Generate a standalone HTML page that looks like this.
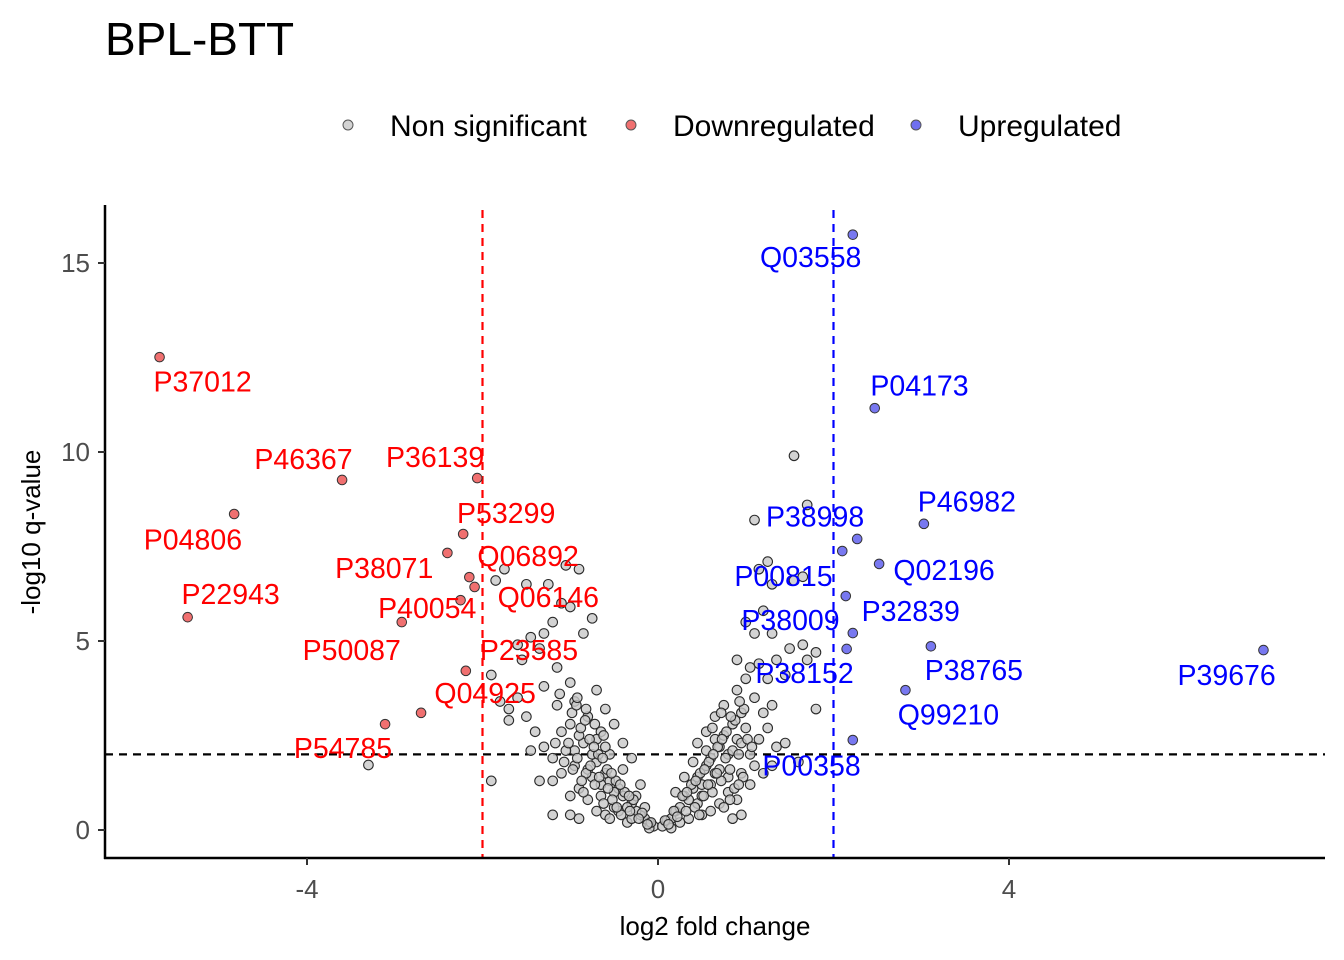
<!DOCTYPE html>
<html><head><meta charset="utf-8"><style>
body{margin:0;background:#fff;}
svg{display:block;font-family:"Liberation Sans",Arial,sans-serif;}
</style></head><body>
<svg id="chart" width="1344" height="960">
<text x="105" y="55" font-size="46" fill="#000">BPL-BTT</text>
<g>
<circle cx="348" cy="125" r="5" fill="#d3d3d3" stroke="#555"/>
<text x="390" y="136" font-size="30">Non significant</text>
<circle cx="631" cy="125" r="5" fill="#f07070" stroke="#555"/>
<text x="673" y="136" font-size="30">Downregulated</text>
<circle cx="916" cy="125" r="5" fill="#7070f0" stroke="#555"/>
<text x="958" y="136" font-size="30">Upregulated</text>
</g>
<g id="plot"></g>
<text x="715" y="935" font-size="26" text-anchor="middle">log2 fold change</text>
<text transform="translate(40,532) rotate(-90)" font-size="26" text-anchor="middle">-log10 q-value</text>
</svg>
<script>
const xTicks=[-4,0,4];
const yTicks=[0,5,10,15];
const grayLeftX=[-0.05,-0.1,-0.15,-0.2,-0.25,-0.3,-0.35,-0.4,-0.45,-0.5,-0.55,-0.6,-0.65,-0.7,-0.75,-0.8,-0.85,-0.9,-0.95,-1.0,-0.6,-0.7,-0.8,-0.9,-1.0,-1.1,-1.2,-1.3,-1.4,-1.5,-1.6,-1.7,-1.8,-1.9,-1.55,-1.45,-1.3,-1.2,-1.1,-1.0,-0.9,-1.05,-1.25,-1.5,-1.75,-1.85,-1.6,-1.35,-1.15,-0.85,-0.75,-1.0,-0.95,-0.7,-0.8,-0.6,-0.5,-0.4,-0.3,-0.2,-0.65,-0.55,-0.45,-0.35,-1.2,-1.0,-0.9,-1.2,-1.35,-1.45,-1.9,-1.7,-1.15,-1.3,-0.65,-0.55,-0.75,-0.85,-0.4,-0.25,-0.15,-0.1,-0.3,-0.5,-3.3,-1.05,-1.1,-0.95,-0.7,-0.6];
const grayLeftY=[0.1,0.2,0.3,0.4,0.5,0.7,0.6,0.9,1.1,1.0,1.3,1.5,1.2,1.8,2.0,1.6,2.3,2.5,2.1,2.8,0.4,0.5,0.8,1.1,0.9,1.5,1.9,2.2,2.6,3.0,3.5,3.2,3.4,4.1,4.5,5.1,5.2,5.5,6.0,5.9,6.9,7.0,6.5,6.5,6.9,6.6,4.9,4.8,4.3,5.2,5.6,3.9,3.4,3.7,3.0,3.2,2.8,2.3,1.9,1.2,0.9,0.3,0.5,0.2,0.4,0.4,0.3,1.3,1.3,2.1,1.3,2.9,3.3,3.8,2.6,2.0,1.4,1.0,1.6,0.9,0.6,0.05,0.3,0.6,1.72,2.1,2.6,1.7,2.4,2.2];
const grayRightX=[0.05,0.1,0.15,0.2,0.25,0.3,0.35,0.4,0.45,0.5,0.55,0.6,0.65,0.7,0.75,0.8,0.85,0.9,0.95,1.0,0.5,0.6,0.7,0.8,0.9,0.95,1.05,1.15,1.25,1.35,1.45,1.6,1.0,1.05,1.15,1.25,1.35,1.5,1.65,1.7,1.8,1.1,1.0,1.2,1.3,1.15,1.25,1.55,1.65,1.1,1.7,1.55,1.8,1.1,0.9,0.75,0.65,0.55,0.45,0.4,0.3,0.2,0.35,0.45,0.75,0.85,0.95,1.05,1.1,0.6,0.7,0.8,0.65,0.55,0.25,0.15,1.2,1.3,0.5,0.85,0.95,1.2,0.9,1.3,1.45,1.3];
const grayRightY=[0.1,0.25,0.3,0.5,0.6,0.9,0.8,1.1,1.4,1.2,1.7,1.9,1.5,2.2,2.5,2.0,2.8,2.4,3.1,2.7,0.4,0.5,0.7,1.0,0.8,1.5,2.0,2.4,2.7,2.2,2.3,1.8,4.0,4.3,4.4,4.0,4.5,4.8,4.9,4.5,4.7,5.2,5.5,5.8,6.5,6.9,7.1,6.6,6.7,8.2,8.6,9.9,3.2,3.5,3.7,3.3,3.0,2.6,2.3,1.8,1.4,1.0,0.3,0.7,0.6,0.3,0.4,1.2,1.7,1.2,1.6,1.4,2.4,2.1,0.2,0.05,1.5,1.7,0.9,2.1,2.3,3.1,4.5,5.2,4.1,3.3];
const grayCoreX=[
-0.08,-0.12,-0.18,-0.22,-0.28,-0.32,-0.38,-0.42,-0.48,-0.52,
-0.58,-0.62,-0.68,-0.72,-0.78,-0.82,-0.88,-0.92,-0.98,-1.02,
-0.33,-0.43,-0.53,-0.63,-0.73,-0.83,-0.93,-0.47,-0.57,-0.67,
-0.77,-0.87,-0.97,-1.07,-1.17,-0.62,-0.72,-0.82,-0.92,-1.12,
0.08,0.12,0.18,0.22,0.28,0.32,0.38,0.42,0.48,0.52,
0.58,0.62,0.68,0.72,0.78,0.82,0.88,0.92,0.98,1.02,
0.33,0.43,0.53,0.63,0.73,0.83,0.93,0.47,0.57,0.67,
0.77,0.87,0.97,1.07,0.62,0.72,0.82,0.92];
const grayCoreY=[
0.2,0.15,0.45,0.3,0.8,0.5,1.0,0.4,1.3,0.8,
1.6,0.7,2.0,1.2,2.4,1.5,2.7,1.9,3.1,2.3,
0.9,1.2,1.5,1.9,2.2,2.9,3.3,0.6,1.1,1.4,
1.7,1.3,1.6,1.8,2.3,2.5,2.8,3.2,3.5,3.6,
0.25,0.15,0.5,0.35,0.9,0.5,1.2,0.6,1.5,0.9,
1.8,1.0,2.2,1.3,2.6,1.6,2.9,2.0,3.2,2.4,
1.0,1.3,1.6,2.0,2.4,3.0,3.4,0.4,1.2,1.5,
1.9,1.1,1.4,2.2,2.7,3.1,0.8,1.2];
const downX=[-5.68,-4.83,-3.60,-5.36,-2.92,-2.06,-2.22,-2.40,-2.15,-2.09,-2.25,-2.19,-3.11,-2.70];
const downY=[12.51,8.36,9.26,5.63,5.50,9.31,7.83,7.33,6.69,6.43,6.08,4.21,2.80,3.10];
const upX=[2.22,2.47,3.03,2.27,2.10,2.52,2.14,2.22,3.11,2.15,6.90,2.82,2.22];
const upY=[15.75,11.16,8.10,7.70,7.38,7.04,6.19,5.21,4.86,4.79,4.76,3.70,2.38];
const downLabels=["P37012","P04806","P46367","P36139","P53299","Q06892","P38071","P22943","Q06146","P40054","P50087","P23585","Q04925","P54785"];
const downLabelX=[-5.19,-5.30,-4.04,-2.54,-1.73,-1.48,-3.12,-4.87,-1.25,-2.63,-3.49,-1.47,-1.97,-3.59];
const downLabelY=[11.87,7.69,9.81,9.87,8.39,7.25,6.93,6.24,6.17,5.87,4.76,4.76,3.62,2.17];
const upLabels=["Q03558","P04173","P46982","P38998","Q02196","P00815","P32839","P38009","P38765","P38152","P39676","Q99210","P00358"];
const upLabelX=[1.74,2.98,3.52,1.79,3.26,1.43,2.88,1.51,3.60,1.67,6.48,3.31,1.75];
const upLabelY=[15.16,11.76,8.69,8.30,6.88,6.72,5.79,5.56,4.23,4.15,4.10,3.05,1.71];
const xThr=2, yThr=2;

const NS="http://www.w3.org/2000/svg";
const plot=document.getElementById('plot');
const X0=658, PXU=87.75, Y0=830, PYU=37.8;
function sx(v){return X0+v*PXU;}
function sy(v){return Y0-v*PYU;}
function mk(tag,attrs){const e=document.createElementNS(NS,tag);for(const k in attrs)e.setAttribute(k,attrs[k]);plot.appendChild(e);return e;}

let l=mk('line',{x1:sx(-xThr),x2:sx(-xThr),y1:210,y2:858,stroke:'#f00','stroke-width':2.2,'stroke-dasharray':'8,6'});


l=mk('line',{x1:sx(xThr),x2:sx(xThr),y1:210,y2:858,stroke:'#00f','stroke-width':2.2,'stroke-dasharray':'8,6'});


l=mk('line',{x1:105,x2:1325,y1:sy(yThr),y2:sy(yThr),stroke:'#000','stroke-width':2.2,'stroke-dasharray':'8,6'});



function grayGroup(xs,ys){
  const n=Math.min(xs.length,ys.length);
  for(let i=0;i<n;i++){
    const c=mk('circle',{cx:sx(xs[i]),cy:sy(ys[i]),r:4.8,fill:'#c8c8c8','fill-opacity':0.8,stroke:'#2a2a2a','stroke-width':1.1});
    
    
  }
}
grayGroup(grayLeftX,grayLeftY);
grayGroup(grayRightX,grayRightY);
grayGroup(grayCoreX,grayCoreY);
for(let i=0;i<downX.length;i++){
  const c=mk('circle',{cx:sx(downX[i]),cy:sy(downY[i]),r:4.8,fill:'#f07070',stroke:'#333','stroke-width':1});
  
  
}
for(let i=0;i<upX.length;i++){
  const c=mk('circle',{cx:sx(upX[i]),cy:sy(upY[i]),r:4.8,fill:'#7878f0',stroke:'#333','stroke-width':1});
  
  
}
for(let i=0;i<downLabels.length;i++){
  const t=mk('text',{x:sx(downLabelX[i]),y:sy(downLabelY[i])+10,'font-size':28.5,fill:'#f00','text-anchor':'middle'});
  t.textContent=downLabels[i];
  
  
}
for(let i=0;i<upLabels.length;i++){
  const t=mk('text',{x:sx(upLabelX[i]),y:sy(upLabelY[i])+10,'font-size':28.5,fill:'#00f','text-anchor':'middle'});
  t.textContent=upLabels[i];
  
  
}
l=mk('line',{x1:105,x2:105,y1:205,y2:859,stroke:'#000','stroke-width':2.5});


l=mk('line',{x1:104,x2:1325,y1:858,y2:858,stroke:'#000','stroke-width':2.5});


xTicks.forEach(v=>{
  const tk=mk('line',{x1:sx(v),x2:sx(v),y1:858,y2:865,stroke:'#333','stroke-width':2});
  
  
  const t=mk('text',{x:sx(v),y:898,'font-size':26,fill:'#4d4d4d','text-anchor':'middle'});
  t.textContent=String(v);
  
  
});
yTicks.forEach(v=>{
  const tk=mk('line',{x1:98,x2:105,y1:sy(v),y2:sy(v),stroke:'#333','stroke-width':2});
  
  
  const t=mk('text',{x:90,y:sy(v)+9,'font-size':26,fill:'#4d4d4d','text-anchor':'end'});
  t.textContent=String(v);
  
  
});
</script>
</body></html>
